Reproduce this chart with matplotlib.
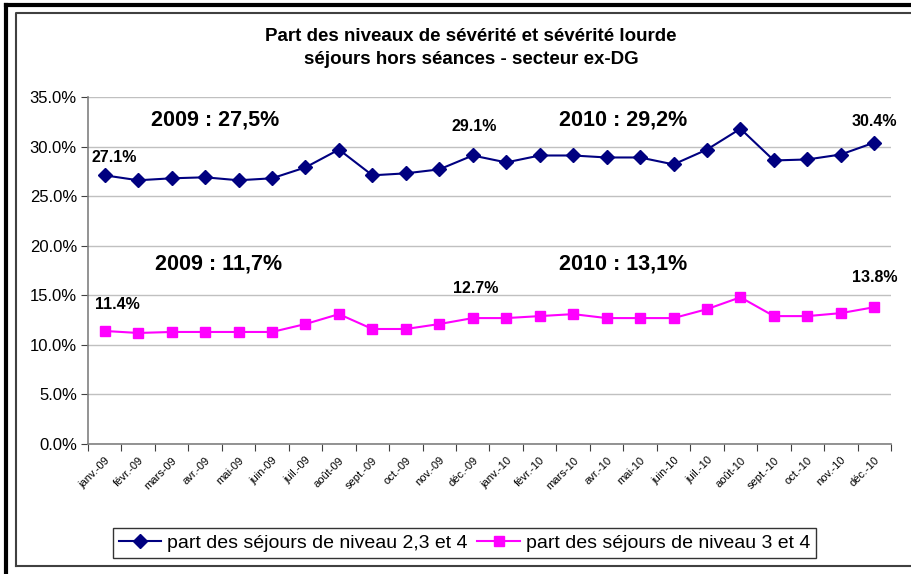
import matplotlib
matplotlib.use("Agg")
import matplotlib.pyplot as plt
from matplotlib.lines import Line2D
from matplotlib.ticker import FuncFormatter, MultipleLocator

plt.rcParams['font.family'] = ['Liberation Sans', 'DejaVu Sans']

months = ["janv.", "févr.", "mars", "avr.", "mai", "juin", "juil.", "août",
          "sept.", "oct.", "nov.", "déc."]
categories = [f"{m}-09" for m in months] + [f"{m}-10" for m in months]

niv234 = [27.1, 26.6, 26.8, 26.9, 26.6, 26.8, 27.9, 29.7, 27.1, 27.3, 27.7, 29.1,
          28.4, 29.1, 29.1, 28.9, 28.9, 28.2, 29.7, 31.8, 28.6, 28.7, 29.2, 30.4]
niv34 = [11.4, 11.2, 11.3, 11.3, 11.3, 11.3, 12.1, 13.1, 11.6, 11.6, 12.1, 12.7,
         12.7, 12.9, 13.1, 12.7, 12.7, 12.7, 13.6, 14.8, 12.9, 12.9, 13.2, 13.8]

series_labels = ["part des séjours de niveau 2,3 et 4", "part des séjours de niveau 3 et 4"]
title = "Part des niveaux de sévérité et sévérité lourde\nséjours hors séances - secteur ex-DG"
year_notes = [("2009 : 27,5%", 3.3, 32.7), ("2010 : 29,2%", 15.5, 32.7),
              ("2009 : 11,7%", 3.4, 18.2), ("2010 : 13,1%", 15.5, 18.2)]
# labelled points: (index, label x, label y) for each series
labels_234 = [(0, 0.27, 28.85), (11, 11.05, 32.0), (23, 23.0, 32.5)]
labels_34 = [(0, 0.39, 14.1), (11, 11.1, 15.7), (23, 23.0, 16.8)]

W, H = 911, 574
fig = plt.figure(figsize=(W / 100, H / 100), dpi=100)
ax = fig.add_axes([88 / W, 1 - 444 / H, (891 - 88) / W, (444 - 97) / H])

x = list(range(len(categories)))
ax.plot(x, niv234, color="#000080", marker="D", markersize=7, lw=1.5,
        label=series_labels[0], zorder=3)
ax.plot(x, niv34, color="#FF00FF", marker="s", markersize=7, lw=1.5,
        label=series_labels[1], zorder=3)

ax.set_xlim(-0.5, len(categories) - 0.5)
ax.set_ylim(0, 35)
ax.yaxis.set_major_locator(MultipleLocator(5))
ax.yaxis.set_major_formatter(FuncFormatter(lambda v, p: f"{v:.1f}%"))
ax.grid(axis="y", color="#C0C0C0", lw=1)
ax.set_axisbelow(True)
for s in ["top", "right"]:
    ax.spines[s].set_visible(False)
for s in ["left", "bottom"]:
    ax.spines[s].set_color("#808080")
    ax.spines[s].set_linewidth(1.2)

ax.set_xticks([i - 0.5 for i in range(len(categories) + 1)])
ax.set_xticklabels([])
ax.set_xticks(x, minor=True)
ax.set_xticklabels(categories, minor=True, rotation=45, ha="right",
                   rotation_mode="anchor", fontsize=8)
ax.tick_params(axis="x", which="minor", length=0, pad=8)
ax.tick_params(axis="x", which="major", length=5, color="#404040")
ax.tick_params(axis="y", length=5, color="#404040", labelsize=12, pad=3)

for txt, xx, yy in year_notes:
    ax.text(xx, yy, txt, fontsize=15.5, fontweight="bold", ha="center", va="center")

for i, lx, ly in labels_234:
    ax.text(lx, ly, f"{niv234[i]:.1f}%", ha="center", va="center",
            fontsize=11.5, fontweight="bold")
for i, lx, ly in labels_34:
    ax.text(lx, ly, f"{niv34[i]:.1f}%", ha="center", va="center",
            fontsize=11.5, fontweight="bold")

fig.text(471 / W, 1 - 48 / H, title, ha="center", va="center",
         fontsize=13.5, fontweight="bold", linespacing=1.4)

leg = fig.legend(loc="center", bbox_to_anchor=(464.5 / W, 1 - 543 / H), ncol=2,
                 fontsize=14, frameon=True, fancybox=False, edgecolor="black",
                 handlelength=2.2, columnspacing=0.5, borderpad=0.3,
                 handletextpad=0.3, borderaxespad=0)
leg.get_frame().set_linewidth(1)

# borders
fig.add_artist(Line2D([6 / W, 6 / W], [0, 1 - 5 / H], transform=fig.transFigure,
                      color="black", lw=3))
fig.add_artist(Line2D([6 / W, 1], [1 - 5 / H, 1 - 5 / H], transform=fig.transFigure,
                      color="black", lw=3))
fig.add_artist(Line2D([16 / W, 16 / W, 1], [1 - 566 / H, 1 - 13 / H, 1 - 13 / H],
                      transform=fig.transFigure, color="#404040", lw=1.5))
fig.add_artist(Line2D([16 / W, 1], [1 - 566 / H, 1 - 566 / H],
                      transform=fig.transFigure, color="#404040", lw=1.5))

fig.savefig("out.png", dpi=100)
